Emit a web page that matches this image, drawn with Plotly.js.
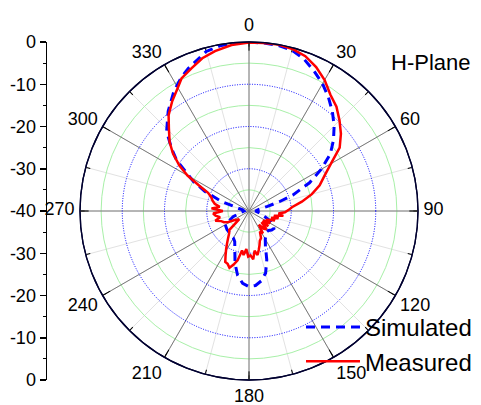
<!DOCTYPE html>
<html><head><meta charset="utf-8">
<script src="https://cdn.plot.ly/plotly-3.0.1.min.js"></script>
<style>html,body{margin:0;padding:0;background:#fff}#chart{width:481px;height:405px}</style>
</head><body><div id="chart"></div>
<script>
// Simulated pattern (angle in degrees, gain in dB)
const simTheta = [0,5,10,15,20,25,30,35,40,45,50,55,60,65,70,73,76,80,90,100,110,115,120,125,130,135,140,145,150,155,160,165,170,175,180,185,190,195,200,205,210,215,220,230,240,250,260,270,280,285,287,289,294,298,302,305,309,314,321,328,333,337,345,350,355,360];
const simDb    = [0,-0.1,-0.2,-0.6,-1.8,-3.5,-5.2,-7.2,-9.3,-11.5,-13.9,-16.5,-20.3,-24.2,-29,-32.5,-35.5,-37.5,-38.5,-37.5,-36,-34.5,-33.3,-32.8,-33,-33.5,-33.5,-33,-32.3,-30.8,-27.7,-24.8,-23.2,-22.3,-22.1,-22.8,-24.5,-27.2,-30.2,-32,-32.6,-32.7,-33,-33.2,-33.5,-36,-38,-38.8,-38.5,-37,-36.5,-33.2,-28.6,-25.1,-22.2,-19.1,-16.4,-12.9,-9.6,-6.5,-4.6,-3.3,-0.9,-0.3,-0.1,0];

// Measured pattern
const measTheta = [0,5,10,15,20,25,30,35,40,45,50,55,60,65,70,75,80,85,88,92,95,98,101,104,107,110,113,117,120,124,128,132,136,140,144,148,152,156,160,163,166,169,172,175,178,181,184,187,190,193,196,199,202,205,208,211,214,218,222,226,230,234,238,242,246,250,254,258,262,266,270,274,278,282,286,290,294,297,300,303,307,311,316,320,325,330,333,338,343,348,354,360];
const measDb    = [-0.1,-0.1,0,-0.3,-1.0,-2.4,-4.2,-6.4,-7.8,-9.7,-11.6,-13.8,-17.6,-20.3,-22.2,-24.6,-27.3,-29.8,-30.5,-31.5,-33.0,-31.8,-34.0,-32.8,-34.5,-33.5,-34.5,-35.5,-34.2,-36,-34.2,-36,-34,-34.5,-36,-33.8,-34.5,-33,-32.5,-31.5,-30.5,-29.4,-30.5,-28.5,-29.5,-29.2,-31,-29.5,-30.5,-28,-26.8,-25.8,-26.5,-26.7,-28.2,-29.5,-30.7,-32,-33,-33.5,-37,-36.5,-36,-34.5,-33.5,-33,-31.7,-33,-32,-31.5,-33.8,-31.1,-33,-31.7,-31,-30.5,-29.4,-26.8,-23.2,-20.4,-17.5,-15.1,-12.7,-10.4,-8.3,-6.3,-4.8,-3.6,-2.2,-1.3,-0.5,-0.1];

const angTicks = [0,30,60,90,120,150,180,210,240,270,300,330];
const angLabels = angTicks.map(String);
const minorAng = [0,15,30,45,60,75,90,105,120,135,150,165,180,195,210,225,240,255,270,285,300,315,330,345];
const leftTickVals = [-40,-30,-20,-10,0,10,20,30,40];
const leftTickText = ['0','-10','-20','-30','-40','-30','-20','-10','0'];

const fam = 'Arial, Liberation Sans, sans-serif';
const dom = {x:[80/481, 418/481], y:[1-380/405, 1-42/405]};
// slightly larger, slightly raised frame used only for the angle labels
const domLbl = {x:[75/481, 423/481], y:[1-383/405, 1-35/405]};

const traces = [
  {type:'scatterpolar', subplot:'polar', r:[], theta:[], showlegend:false, hoverinfo:'skip'},
  {type:'scatterpolar', subplot:'polar3', r:[], theta:[], showlegend:false, hoverinfo:'skip'},
  {type:'scatter', x:[null], y:[null], xaxis:'x', yaxis:'y', showlegend:false, hoverinfo:'skip'},
  {type:'scatterpolar', subplot:'polar2', name:'Simulated', r:simDb, theta:simTheta, mode:'lines',
   line:{color:'#0000ff', width:3, dash:'9px,6px'}, legendgroup:'a'},
  {type:'scatterpolar', subplot:'polar2', name:'Measured', r:measDb, theta:measTheta, mode:'lines',
   line:{color:'#ff0000', width:2.5}, legendgroup:'b'}
];

const layout = {
  width:481, height:405, margin:{l:0,r:0,t:0,b:0},
  paper_bgcolor:'#fff', plot_bgcolor:'rgba(0,0,0,0)',
  font:{family:fam, size:18, color:'#000'},
  polar:{
    domain:dom, bgcolor:'#fff',
    angularaxis:{rotation:90, direction:'clockwise', thetaunit:'degrees', tickmode:'array', tickvals:minorAng,
      showticklabels:false, ticks:'inside', ticklen:4, tickcolor:'#000', gridcolor:'#e2e2e2', gridwidth:1,
      showline:true, linecolor:'#000030', linewidth:1.3},
    radialaxis:{range:[-40,0], tickmode:'array', tickvals:[-35,-25,-15,-5], gridcolor:'#a8f0a8', gridwidth:1,
      showticklabels:false, ticks:'', showline:false}
  },
  polar3:{
    domain:domLbl, bgcolor:'rgba(0,0,0,0)',
    angularaxis:{rotation:90, direction:'clockwise', thetaunit:'degrees', tickmode:'array', tickvals:angTicks, ticktext:angLabels,
      showticklabels:true, ticks:'', showgrid:false, showline:false, tickfont:{family:fam, size:18, color:'#000'}},
    radialaxis:{range:[-40,0], visible:false, showgrid:false, showline:false, ticks:''}
  },
  polar2:{
    domain:dom, bgcolor:'rgba(0,0,0,0)',
    angularaxis:{rotation:90, direction:'clockwise', thetaunit:'degrees', tickmode:'array', tickvals:angTicks,
      showticklabels:false, ticks:'inside', ticklen:8, tickcolor:'#000', tickwidth:1, gridcolor:'#7a7a7a', gridwidth:1,
      showline:true, linecolor:'#000030', linewidth:1.3},
    radialaxis:{range:[-40,0], tickmode:'array', tickvals:[-30,-20,-10], gridcolor:'#0000ff', gridwidth:1, griddash:'1px,1.5px',
      showticklabels:false, ticks:'', showline:false}
  },
  xaxis:{domain:[47/481, 0.15], visible:false, range:[0,1], fixedrange:true},
  yaxis:{domain:dom.y, anchor:'x', range:[-40,40], tickmode:'array', tickvals:leftTickVals, ticktext:leftTickText,
    ticks:'outside', ticklen:6, tickwidth:1.5, tickcolor:'#000', showline:true, linecolor:'#000', linewidth:1.5,
    showgrid:false, zeroline:false, tickfont:{family:fam, size:18, color:'#000'},
    minor:{dtick:5, ticks:'outside', ticklen:3, tickcolor:'#000', tickwidth:1.2}},
  showlegend:true,
  legend:{x:301/481, y:1-305/405, xanchor:'left', yanchor:'top', bgcolor:'rgba(0,0,0,0)', borderwidth:0,
    font:{family:fam, size:24, color:'#000'}, itemwidth:54, traceorder:'grouped', tracegroupgap:0},
  annotations:[{text:'H-Plane', xref:'paper', yref:'paper', x:430/481, y:1-62/405, showarrow:false,
    xanchor:'center', yanchor:'middle', font:{family:fam, size:22, color:'#000'}}]
};

Plotly.newPlot('chart', traces, layout, {staticPlot:true, displayModeBar:false});
</script></body></html>
